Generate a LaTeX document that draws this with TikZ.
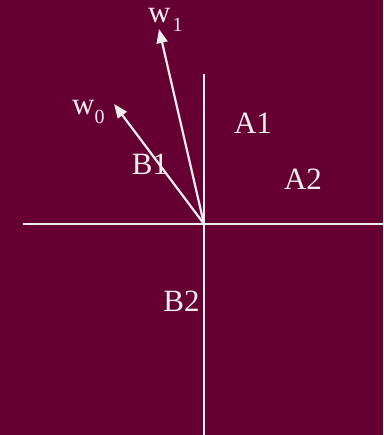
\documentclass[tikz,border=0pt]{standalone}
\usepackage{fontspec}
\setmainfont{Liberation Serif}
\usetikzlibrary{arrows.meta}
\definecolor{bg}{HTML}{660033}
\definecolor{ln}{HTML}{EDEDED}
\newcommand{\subsc}[1]{\raisebox{-9pt}{\fontsize{20}{20}\selectfont #1}}
\begin{document}
\begin{tikzpicture}[x=1pt,y=-1pt,
  axis/.style={draw=ln,line width=2.2pt},
  vec/.style={draw=ln,line width=2.2pt,-{Triangle[length=14pt,width=11pt]}},
  lbl/.style={text=ln,inner sep=0pt,anchor=base,font=\fontsize{31}{31}\selectfont}]
\fill[bg] (0,0) rectangle (383,435);
\useasboundingbox (0,0) rectangle (383,435);
\coordinate (O) at (204,224);
\coordinate (xl) at (23,224);
\coordinate (xr) at (383,224);
\coordinate (yt) at (204,74);
\coordinate (yb) at (204,435);
\coordinate (t1) at (159,29);
\coordinate (t0) at (114,104);
\draw[axis] (xl) -- (xr);
\draw[axis] (yt) -- (yb);
\draw[vec] (O) -- (t1);
\draw[vec] (O) -- (t0);
\node[lbl,anchor=base west] (w1) at (148,23) {w\kern2pt\subsc{1}};
\node[lbl,anchor=base west] (w0) at (72,115) {w\subsc{0}};
\node[lbl] (A1) at (253,134) {A1};
\node[lbl] (A2) at (303,190) {A2};
\node[lbl] (B1) at (150,175) {B1};
\node[lbl] (B2) at (181.5,311) {B2};
\end{tikzpicture}
\end{document}
